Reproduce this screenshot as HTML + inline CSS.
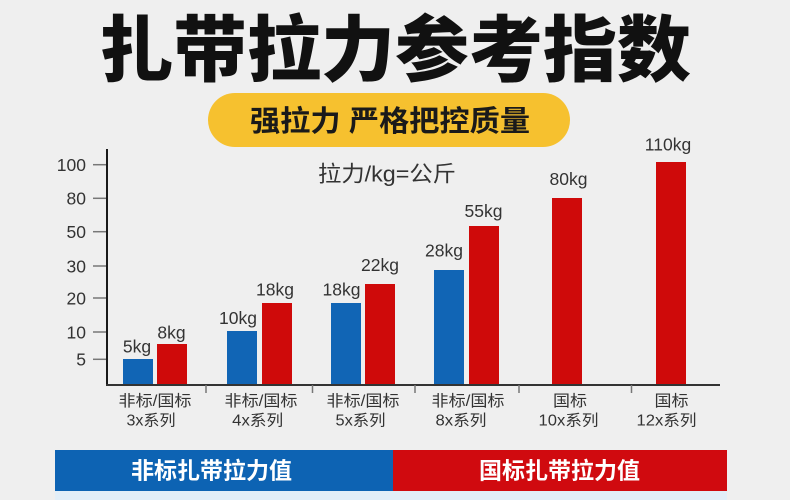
<!DOCTYPE html>
<html>
<head>
<meta charset="utf-8">
<style>
html,body{margin:0;padding:0;background:#efefef;}
svg{display:block;}
.t{font-family:"Liberation Sans","Noto Sans CJK SC",sans-serif;}
</style>
</head>
<body>
<svg width="790" height="500" viewBox="0 0 790 500" xmlns="http://www.w3.org/2000/svg">
  <rect x="0" y="0" width="790" height="500" fill="#efefef"/>

  <!-- Title -->
  <text class="t" x="99" y="75.5" font-size="72" font-weight="900" fill="#111" textLength="592" lengthAdjust="spacingAndGlyphs">扎带拉力参考指数</text>

  <!-- Yellow pill -->
  <rect x="208" y="93" width="362" height="54" rx="27" ry="27" fill="#f6c12f"/>
  <text class="t" x="250" y="131" font-size="29" font-weight="700" fill="#1a1a1a" textLength="280" lengthAdjust="spacingAndGlyphs">强拉力 严格把控质量</text>

  <!-- Unit note -->
  <text class="t" x="318" y="181.5" font-size="22" fill="#333" textLength="138" lengthAdjust="spacingAndGlyphs">拉力/kg=公斤</text>

  <!-- Y ticks -->
  <g stroke="#777" stroke-width="1.5">
    <line x1="93" y1="164.7" x2="106" y2="164.7"/>
    <line x1="93" y1="198.3" x2="106" y2="198.3"/>
    <line x1="93" y1="231.7" x2="106" y2="231.7"/>
    <line x1="93" y1="266" x2="106" y2="266"/>
    <line x1="93" y1="298" x2="106" y2="298"/>
    <line x1="93" y1="332" x2="106" y2="332"/>
    <line x1="93" y1="359.3" x2="106" y2="359.3"/>
  </g>
  <g class="t" font-size="17.5" fill="#333" text-anchor="end">
    <text x="86" y="171">100</text>
    <text x="86" y="204.6">80</text>
    <text x="86" y="238">50</text>
    <text x="86" y="272.3">30</text>
    <text x="86" y="304.3">20</text>
    <text x="86" y="338.3">10</text>
    <text x="86" y="365.6">5</text>
  </g>

  <!-- Bars -->
  <g fill="#1165b5">
    <rect x="123" y="359" width="30" height="26"/>
    <rect x="227" y="331" width="30" height="54"/>
    <rect x="331" y="303" width="30" height="82"/>
    <rect x="434" y="270" width="30" height="115"/>
  </g>
  <g fill="#cf0a0a">
    <rect x="157" y="344" width="30" height="41"/>
    <rect x="262" y="303" width="30" height="82"/>
    <rect x="365" y="284" width="30" height="101"/>
    <rect x="469" y="226" width="30" height="159"/>
    <rect x="552" y="198" width="30" height="187"/>
    <rect x="656" y="162" width="30" height="223"/>
  </g>

  <!-- Value labels -->
  <g class="t" font-size="17.5" fill="#333" text-anchor="middle">
    <text x="137" y="352.3">5kg</text>
    <text x="171.5" y="338.3">8kg</text>
    <text x="238" y="324">10kg</text>
    <text x="275" y="295.7">18kg</text>
    <text x="341.5" y="295.7">18kg</text>
    <text x="380" y="271">22kg</text>
    <text x="444" y="256.7">28kg</text>
    <text x="483.5" y="217">55kg</text>
    <text x="568.5" y="185">80kg</text>
    <text x="668" y="150.7">110kg</text>
  </g>

  <!-- Axes -->
  <rect x="106" y="149" width="2" height="237" fill="#1a1a1a"/>
  <rect x="106" y="384" width="614" height="2" fill="#333"/>

  <!-- Category separators -->
  <g stroke="#777" stroke-width="1.5">
    <line x1="206" y1="385" x2="206" y2="393"/>
    <line x1="312.5" y1="385" x2="312.5" y2="393"/>
    <line x1="415" y1="385" x2="415" y2="393"/>
    <line x1="519" y1="385" x2="519" y2="393"/>
    <line x1="631.5" y1="385" x2="631.5" y2="393"/>
  </g>

  <!-- Category labels -->
  <g class="t" font-size="15.5" fill="#333" text-anchor="middle">
    <text x="155" y="406" textLength="73" lengthAdjust="spacingAndGlyphs">非标/国标</text>
    <text x="151" y="425.5" textLength="49" lengthAdjust="spacingAndGlyphs">3x系列</text>
    <text x="261" y="406" textLength="73" lengthAdjust="spacingAndGlyphs">非标/国标</text>
    <text x="257.7" y="425.5" textLength="51" lengthAdjust="spacingAndGlyphs">4x系列</text>
    <text x="363" y="406" textLength="73" lengthAdjust="spacingAndGlyphs">非标/国标</text>
    <text x="360.5" y="425.5" textLength="50" lengthAdjust="spacingAndGlyphs">5x系列</text>
    <text x="468" y="406" textLength="73" lengthAdjust="spacingAndGlyphs">非标/国标</text>
    <text x="461" y="425.5" textLength="51" lengthAdjust="spacingAndGlyphs">8x系列</text>
    <text x="570" y="406" textLength="34" lengthAdjust="spacingAndGlyphs">国标</text>
    <text x="568.5" y="425.5" textLength="60" lengthAdjust="spacingAndGlyphs">10x系列</text>
    <text x="671.5" y="406" textLength="34" lengthAdjust="spacingAndGlyphs">国标</text>
    <text x="666.5" y="425.5" textLength="60" lengthAdjust="spacingAndGlyphs">12x系列</text>
  </g>

  <!-- Legend bar -->
  <rect x="55" y="450" width="338" height="41" fill="#0d63b3"/>
  <rect x="393" y="450" width="334" height="41" fill="#d00a0f"/>
  <rect x="55" y="491" width="672" height="9" fill="#e2eef8"/>
  <text class="t" x="131" y="478.5" font-size="23" font-weight="700" fill="#ffffff" textLength="161" lengthAdjust="spacingAndGlyphs">非标扎带拉力值</text>
  <text class="t" x="479" y="478.5" font-size="23" font-weight="700" fill="#ffffff" textLength="161" lengthAdjust="spacingAndGlyphs">国标扎带拉力值</text>
</svg>
</body>
</html>
